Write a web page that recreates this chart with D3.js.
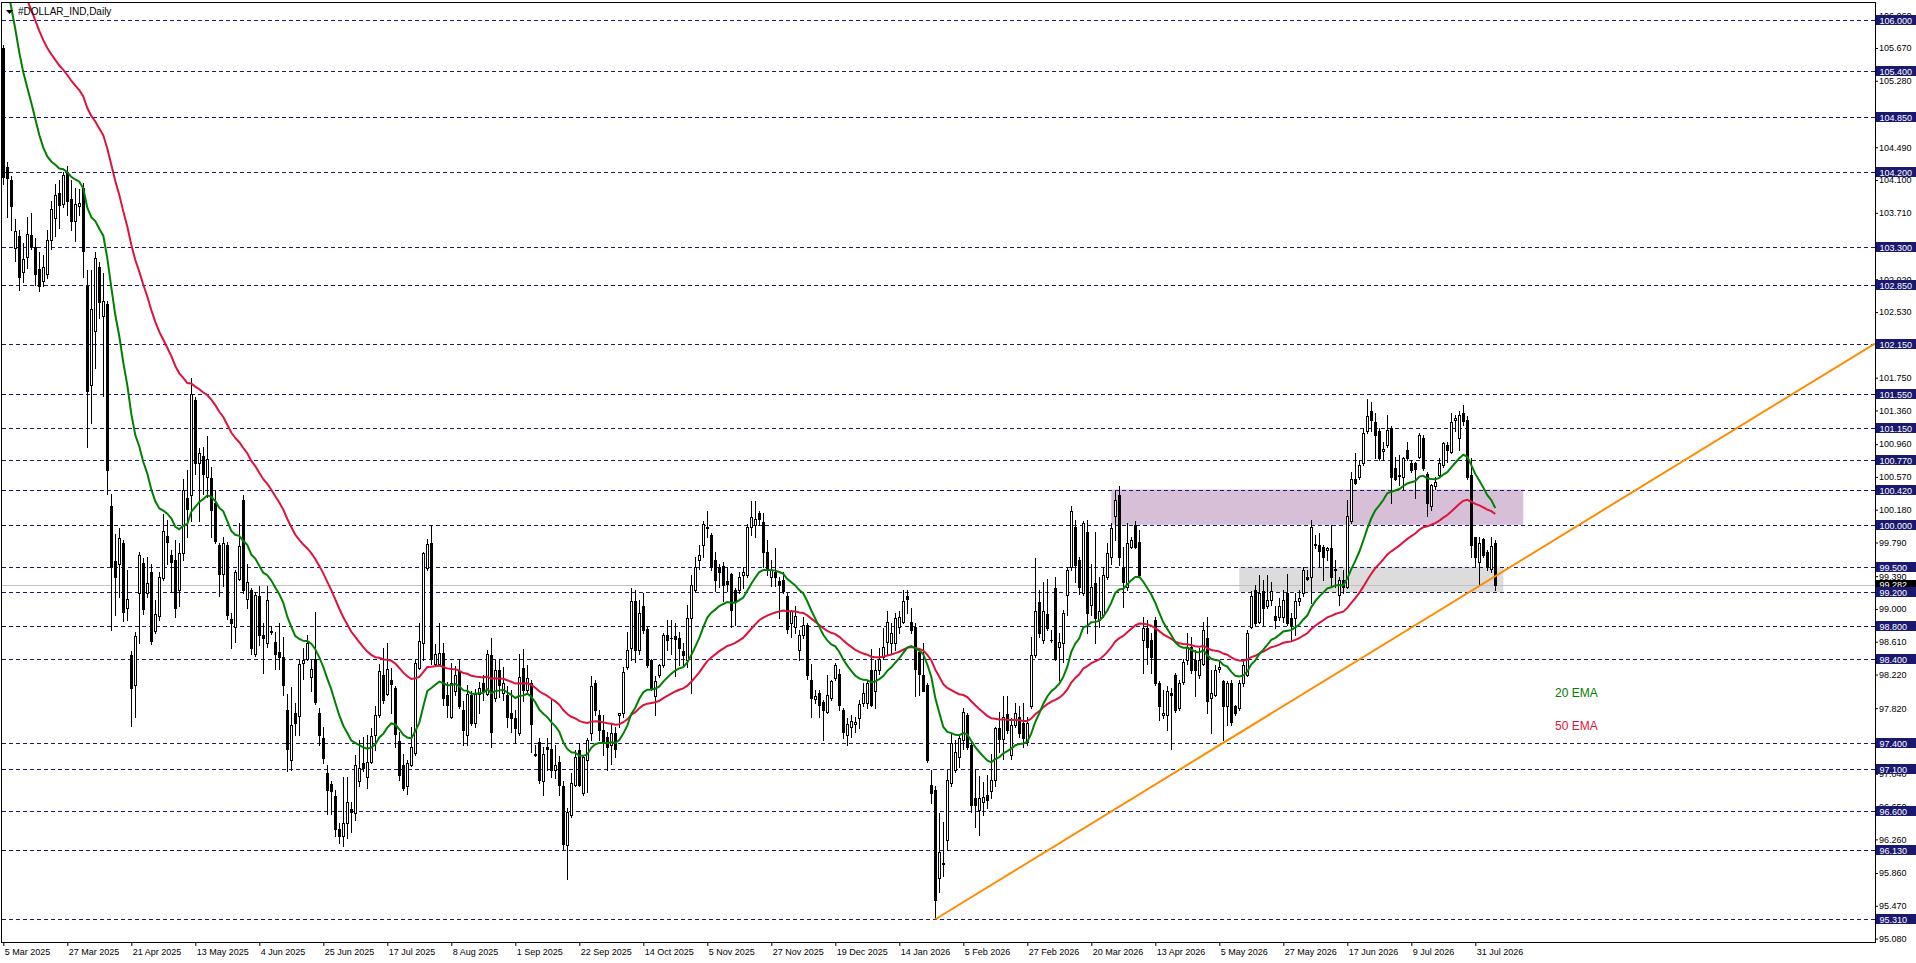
<!DOCTYPE html>
<html>
<head>
<meta charset="utf-8">
<script src="https://cdn.jsdelivr.net/npm/d3@7"></script>
<style>
html, body { margin: 0; padding: 0; background: #fff; overflow: hidden; }
svg { display: block; }
text { font-family: "Liberation Sans", Arial, sans-serif; }
</style>
</head>
<body>
<script>
////////////////////////////////////////////////////////////////
// Data: daily OHLC for #DOLLAR_IND, one value per bar (bar 0 = 5 Mar 2025)

const opens = [
  105.67,104.25,104.10,103.29,103.44,103.01,103.18,103.45,103.30,103.04,
  102.90,102.98,103.39,103.65,103.95,103.82,104.20,103.87,103.61,103.79,
  104.00,102.84,101.66,102.30,103.06,102.48,102.63,100.22,99.57,99.53,
  99.78,99.01,98.45,98.09,99.19,99.55,99.19,99.44,98.74,98.92,
  99.37,99.87,99.64,99.58,99.23,99.67,100.32,100.35,101.49,100.73,
  100.82,100.57,100.56,100.26,99.76,99.42,99.76,98.88,98.79,99.36,
  100.30,99.12,99.22,98.46,99.15,98.69,98.59,98.74,98.61,98.49,
  98.43,97.80,97.20,97.76,97.73,98.36,98.41,98.19,98.41,97.76,
  97.46,97.05,96.92,96.77,96.38,96.30,96.45,96.62,96.57,96.95,
  97.17,97.00,97.18,97.50,97.74,98.21,97.99,98.16,98.06,97.43,
  97.14,96.89,97.15,97.29,98.30,98.59,99.49,99.78,98.35,98.35,
  98.48,97.98,97.72,98.03,98.26,97.80,97.50,97.98,97.64,97.99,
  98.12,97.99,98.45,97.94,98.27,98.00,97.98,97.76,97.70,97.52,
  98.30,98.04,98.12,97.27,97.42,96.95,97.36,97.34,97.09,97.18,
  96.89,96.19,96.55,96.91,97.32,96.81,97.20,97.52,98.12,97.74,
  97.56,97.48,97.38,97.52,97.74,97.76,98.31,98.53,99.09,98.51,
  99.03,98.76,98.39,97.96,98.21,98.33,98.69,98.66,98.68,98.65,
  98.50,98.39,98.89,99.23,99.58,99.76,99.96,99.88,99.58,99.50,
  99.51,99.33,99.42,99.23,99.23,99.40,99.40,99.98,100.00,100.14,
  100.03,99.68,99.38,99.44,99.33,99.34,99.15,98.83,98.79,98.51,
  98.69,98.81,98.16,97.93,98.00,97.89,97.78,97.94,98.18,98.23,
  97.80,97.50,97.60,97.63,97.70,97.88,97.88,98.27,98.02,98.27,
  98.43,98.61,98.59,98.59,98.79,98.84,99.15,98.85,98.79,98.49,
  98.21,98.10,96.91,96.85,95.80,95.97,96.25,96.93,97.09,97.24,
  97.44,97.74,97.38,96.75,96.61,96.71,96.79,96.83,96.97,97.58,
  97.45,97.75,97.26,97.62,97.72,97.64,97.42,97.84,98.45,99.08,
  98.63,98.94,98.63,99.25,98.55,98.59,99.17,99.50,99.98,99.58,
  99.19,99.92,99.05,99.31,98.87,98.93,99.38,99.62,100.10,100.36,
  99.50,99.26,99.74,100.00,99.79,98.63,98.77,98.63,98.87,98.12,
  97.74,97.74,98.00,98.22,97.82,98.13,98.39,98.55,98.39,98.22,
  98.35,98.65,97.94,97.98,98.28,98.14,97.84,98.12,97.84,97.82,
  98.12,98.22,98.79,99.23,98.85,99.21,99.03,99.11,98.92,98.91,
  98.91,99.19,98.89,98.89,99.09,99.19,99.38,99.38,99.77,99.76,
  99.74,99.70,99.72,99.46,99.17,99.34,99.26,100.04,100.55,100.57,
  100.73,101.11,101.35,101.22,101.11,100.88,100.95,101.15,100.67,100.58,
  100.57,100.89,100.74,100.73,100.81,101.03,100.61,100.22,100.46,100.59,
  100.71,100.95,100.87,101.25,101.03,101.33,101.25,100.59,99.85,99.56,
  99.83,99.68,99.47,99.78
];

const highs = [
  105.70,104.32,104.15,103.64,103.50,103.35,103.66,103.71,103.41,103.25,
  103.21,103.50,103.85,104.05,104.10,104.20,104.27,104.10,104.01,103.99,
  104.06,103.03,103.03,103.25,103.13,102.99,102.66,100.37,99.89,99.96,
  99.82,99.46,98.50,98.72,99.68,99.60,99.62,99.54,99.11,99.44,
  100.13,100.06,99.70,99.82,99.78,100.54,100.65,101.75,101.52,100.91,
  100.93,101.06,100.69,100.40,99.78,99.85,99.80,98.95,99.46,100.02,
  100.36,99.54,99.25,99.20,99.27,98.83,99.27,98.80,98.73,98.83,
  98.67,97.99,98.07,97.88,98.39,98.53,98.69,98.39,98.96,97.82,
  97.60,97.15,96.95,96.85,96.45,97.00,97.00,96.70,97.26,97.44,
  97.48,97.50,97.58,97.84,98.34,98.53,98.60,98.30,98.08,97.54,
  97.28,97.20,97.60,98.39,98.83,99.68,99.83,100.00,98.58,98.83,
  98.59,98.13,98.36,98.32,98.39,97.90,98.10,98.02,98.05,98.13,
  98.22,98.51,98.65,98.39,98.40,98.31,98.08,98.04,97.80,98.47,
  98.52,98.33,98.16,97.38,97.46,97.36,97.46,97.92,97.38,97.25,
  96.95,96.63,97.05,97.32,97.40,97.26,97.46,98.20,98.16,97.80,
  97.74,97.54,97.64,97.60,97.76,98.31,98.73,99.25,99.22,99.11,
  99.19,98.79,98.41,98.20,98.35,98.71,98.87,98.87,98.83,98.73,
  98.59,99.05,99.40,99.62,99.76,100.04,100.17,99.90,99.68,99.54,
  99.56,99.50,99.43,99.25,99.44,99.50,100.01,100.28,100.28,100.17,
  100.14,99.82,99.58,99.72,99.38,99.44,99.19,98.99,99.03,98.75,
  98.91,98.83,98.34,98.04,98.04,97.92,98.21,98.16,98.36,98.29,
  97.82,97.70,97.74,97.72,97.92,98.12,98.16,98.52,98.39,98.53,
  98.77,98.97,98.83,98.95,98.97,99.23,99.22,99.01,98.83,98.51,
  98.59,98.12,97.09,96.90,96.57,96.47,97.09,97.52,97.44,97.50,
  97.82,97.76,97.44,97.09,97.01,96.94,97.02,97.28,97.60,97.78,
  97.96,97.96,97.70,97.88,97.84,97.88,97.72,98.67,99.60,99.23,
  99.32,99.36,98.75,99.38,98.71,98.99,99.50,100.22,100.06,99.62,
  100.04,100.06,99.54,99.92,99.38,99.50,99.78,100.02,100.40,100.46,
  99.74,100.02,99.86,100.04,99.94,98.91,98.87,98.71,98.91,98.14,
  98.04,98.08,98.06,98.24,98.16,98.41,98.71,98.67,98.51,98.53,
  98.85,98.91,98.27,98.33,98.37,98.16,98.14,98.16,97.86,98.16,
  98.39,98.75,99.21,99.29,99.40,99.34,99.40,99.32,99.03,99.13,
  99.23,99.42,98.95,99.19,99.23,99.50,99.46,100.06,99.88,99.90,
  99.76,99.74,100.00,99.58,99.38,99.46,100.30,100.63,100.85,100.77,
  101.15,101.50,101.46,101.33,101.15,100.99,101.31,101.17,100.81,100.83,
  100.81,100.99,100.77,100.75,101.09,101.07,100.63,100.49,100.57,100.79,
  100.99,100.99,101.33,101.31,101.35,101.43,101.29,100.79,99.86,99.86,
  99.84,99.70,99.85,99.82
];

const lows = [
  104.05,103.66,103.50,103.14,102.79,102.89,103.05,103.28,102.85,102.78,
  102.84,102.94,103.28,103.44,103.53,103.78,103.69,103.50,103.37,103.69,
  102.95,100.92,101.21,101.87,102.46,101.53,100.37,98.75,98.93,99.14,
  98.86,98.87,97.61,97.72,98.59,98.94,99.14,98.58,98.71,98.87,
  99.35,99.54,99.20,98.91,99.03,99.58,99.86,100.04,100.60,100.04,
  100.37,100.33,99.86,99.78,99.15,99.27,98.88,98.53,98.61,99.35,
  99.19,99.01,98.47,98.44,98.57,98.24,98.55,98.70,98.28,98.29,
  97.98,97.07,97.09,97.50,97.50,98.17,98.39,98.03,97.87,97.38,
  97.17,96.56,96.56,96.30,96.22,96.18,96.28,96.35,96.49,96.89,
  97.07,96.87,97.17,97.32,97.72,97.88,97.98,97.76,97.36,96.97,
  96.85,96.80,97.13,97.26,98.29,98.39,99.46,98.34,98.33,98.33,
  97.86,97.72,97.70,97.98,97.82,97.38,97.38,97.62,97.60,97.76,
  97.92,97.98,97.36,97.90,97.95,97.92,97.60,97.54,97.40,97.50,
  97.90,97.99,97.30,97.25,96.93,96.79,97.08,97.00,96.99,96.79,
  96.14,95.79,96.53,96.89,96.89,96.79,96.82,97.44,97.74,97.44,
  97.26,97.09,97.16,97.24,97.60,97.72,98.29,98.39,98.37,98.47,
  98.71,98.31,98.04,97.74,98.19,98.31,98.51,98.47,98.20,98.33,
  98.33,98.31,98.00,99.21,99.48,99.62,99.86,99.46,99.21,99.26,
  99.09,99.21,98.79,98.81,99.19,99.25,99.38,99.88,99.86,100.00,
  99.50,99.40,99.27,99.27,98.89,99.19,98.71,98.67,98.71,98.39,
  98.65,98.17,97.71,97.88,97.72,97.44,97.76,97.92,98.16,97.80,
  97.46,97.38,97.48,97.54,97.58,97.84,97.82,97.84,97.82,98.23,
  98.41,98.47,98.47,98.51,98.71,98.83,98.95,98.71,97.96,97.98,
  98.02,97.18,96.69,95.31,95.64,95.82,96.13,96.89,97.06,97.12,
  97.34,97.34,96.59,96.41,96.31,96.55,96.63,96.75,96.89,97.30,
  97.22,97.52,97.22,97.60,97.48,97.36,97.38,97.82,98.43,98.67,
  98.59,98.75,98.61,98.39,98.16,98.37,98.93,99.46,99.32,99.18,
  99.17,98.71,98.93,98.59,98.79,98.91,99.36,99.54,99.82,99.52,
  99.02,99.22,99.72,99.72,99.38,98.24,98.35,98.24,98.10,97.68,
  97.70,97.56,97.34,97.78,97.80,98.11,98.35,98.24,97.96,98.18,
  98.33,97.76,97.52,97.96,98.25,97.44,97.62,97.62,97.74,97.80,
  98.08,98.20,98.77,98.81,98.83,98.81,99.01,99.05,98.77,98.87,
  98.85,98.81,98.63,98.69,99.05,99.15,99.34,99.07,99.72,99.50,
  99.34,99.58,99.26,99.26,99.05,99.19,99.25,100.02,100.48,100.55,
  100.71,101.09,101.11,100.79,100.77,100.77,100.93,100.26,100.53,100.47,
  100.43,100.77,100.63,100.32,100.79,100.65,100.10,100.18,100.43,100.57,
  100.69,100.75,100.85,101.11,100.89,101.19,100.55,99.62,99.50,99.28,
  99.62,99.46,99.44,99.23
];

const closes = [
  104.14,104.12,103.79,103.49,102.95,103.16,103.46,103.31,102.98,102.84,
  103.06,103.39,103.75,103.92,103.80,104.16,103.85,103.61,103.81,103.83,
  103.26,101.59,102.57,103.17,102.65,102.66,100.65,99.50,99.38,99.84,
  98.96,99.12,98.06,98.68,99.64,99.00,99.31,98.62,98.94,99.38,
  99.93,99.79,99.56,99.01,99.66,100.41,100.19,101.55,100.74,100.85,
  100.61,100.78,100.18,99.81,99.41,99.78,98.93,98.83,99.44,99.75,
  99.23,99.32,98.54,99.16,98.69,98.66,99.11,98.73,98.47,98.43,
  98.10,97.34,97.62,97.64,98.34,98.39,98.60,98.29,97.89,97.50,
  97.23,96.85,96.83,96.38,96.30,96.45,96.71,96.58,97.15,97.11,
  97.11,97.18,97.49,97.74,98.26,97.92,98.29,98.11,97.51,97.03,
  96.87,97.17,97.36,98.36,98.62,99.66,99.77,98.41,98.47,98.48,
  97.94,97.86,98.12,98.21,97.84,97.56,97.99,97.64,97.99,98.06,
  98.03,98.47,97.54,98.27,98.10,98.12,97.72,97.70,97.58,98.19,
  98.04,98.18,97.63,97.26,96.97,97.28,97.34,97.09,97.15,96.91,
  96.21,96.59,96.93,97.24,96.91,97.24,97.44,98.08,97.80,97.56,
  97.40,97.36,97.52,97.34,97.76,98.25,98.51,99.09,98.51,98.95,
  98.75,98.33,98.06,98.14,98.33,98.69,98.63,98.66,98.64,98.53,
  98.45,98.89,99.29,99.50,99.64,100.01,99.98,99.50,99.34,99.44,
  99.29,99.30,98.99,99.09,99.38,99.44,99.98,100.09,100.07,100.07,
  99.68,99.48,99.46,99.38,99.28,99.21,98.76,98.97,98.92,98.69,
  98.81,98.21,97.94,97.96,97.86,97.80,97.98,98.14,98.33,97.86,
  97.54,97.63,97.67,97.66,97.87,98.00,98.12,97.86,98.27,98.41,
  98.55,98.85,98.71,98.89,98.91,99.09,99.12,98.75,98.29,98.23,
  98.03,97.20,96.81,95.54,96.11,95.98,96.97,97.40,97.30,97.46,
  97.77,97.36,96.67,96.67,96.75,96.76,96.73,96.97,97.58,97.45,
  97.72,97.56,97.62,97.76,97.52,97.46,97.64,98.45,98.97,98.71,
  98.97,98.77,98.63,98.41,98.61,98.95,99.46,100.16,99.52,99.26,
  100.02,98.95,99.26,98.89,98.97,99.40,99.66,99.96,100.30,99.62,
  99.32,99.78,99.82,99.74,99.40,98.77,98.55,98.43,98.12,97.84,
  97.76,98.02,97.98,97.80,98.12,98.37,98.55,98.27,98.27,98.39,
  98.75,97.90,98.00,98.27,98.31,97.84,98.12,97.66,97.76,98.12,
  98.33,98.71,99.15,98.83,99.19,99.01,99.11,99.21,98.87,99.03,
  99.11,98.83,98.81,99.09,99.13,99.46,99.36,99.98,99.76,99.69,
  99.62,99.73,99.38,99.48,99.34,99.26,100.10,100.55,100.50,100.71,
  101.09,101.29,101.25,101.07,100.79,100.90,101.13,100.57,100.55,100.59,
  100.79,100.79,100.65,100.66,101.07,100.67,100.26,100.47,100.51,100.73,
  100.97,100.89,101.22,101.27,101.31,101.23,100.57,99.76,99.62,99.78,
  99.64,99.50,99.75,99.282
];

// EMA values carried in from the bars before the visible window
const ema20Start = 106.90;
const ema50Start = 107.10;

// date labels on the time axis, one every 16 bars
const dateLabels = ["5 Mar 2025","27 Mar 2025","21 Apr 2025","13 May 2025","4 Jun 2025",
  "25 Jun 2025","17 Jul 2025","8 Aug 2025","1 Sep 2025","22 Sep 2025","14 Oct 2025",
  "5 Nov 2025","27 Nov 2025","19 Dec 2025","14 Jan 2026","5 Feb 2026","27 Feb 2026",
  "20 Mar 2026","13 Apr 2026","5 May 2026","27 May 2026","17 Jun 2026","9 Jul 2026",
  "31 Jul 2026"];

// price scale tick labels that show on the scale
const priceTicks = [106.060,105.670,105.280,104.490,104.100,103.710,
  102.920,102.530,101.750,101.360,100.960,100.570,100.180,99.790,99.390,
  99.000,98.610,98.220,97.820,97.040,96.650,96.260,95.860,95.470,95.080];

// horizontal levels drawn on the chart
const levels = [106.000,105.400,104.850,104.200,103.300,102.850,102.150,101.550,
  101.150,100.770,100.420,100.000,99.500,99.200,98.800,98.400,97.400,97.100,
  96.600,96.130,95.310];

// zones: [first bar, last bar] and [low, high]
const zoneBars   = [[277, 380], [309, 375]];
const zonePrices = [[100.000, 100.420], [99.200, 99.500]];

// trend line anchors (bar index, price)
const trendBars   = [233, 373];
const trendPrices = [95.31, 99.39];


////////////////////////////////////////////////////////////////
// Setup

const W = 1916, H = 963;
const pL = 2, pT = 2, pR = 1875, pB = 942;
const BLUE = "#191970";

let svg = d3.select("body").append("svg")
  .attr("width", W)
  .attr("height", H)

// one bar every 4 px, the right part of the window is empty space
let x = d3.scaleLinear().domain([0, 468]).range([3.3, 3.3 + 4 * 468])
let y = d3.scaleLinear().domain([95.08, 105.67]).range([938.6, 48])

svg.append("defs").append("clipPath").attr("id", "plot")
  .append("rect")
  .attr("x", pL).attr("y", pT + 1)
  .attr("width", pR - pL).attr("height", pB - pT - 1)

let plot = svg.append("g").attr("clip-path", "url(#plot)")

let bars = d3.range(closes.length).map(i => ({
  i: i, o: opens[i], h: highs[i], l: lows[i], c: closes[i]
}))

const px = i => Math.floor(x(i)) + 0.5


////////////////////////////////////////////////////////////////
// Zones and levels (behind the candles)

const zoneColors = ["#D8BFD8", "#DCDCDC"];

plot.selectAll("rect.zone")
  .data(zoneBars)
  .enter()
  .append("rect")
  .attr("class", "zone")
  .attr("x", d => x(d[0]))
  .attr("width", d => x(d[1]) - x(d[0]))
  .attr("y", (d, k) => y(zonePrices[k][1]))
  .attr("height", (d, k) => y(zonePrices[k][0]) - y(zonePrices[k][1]))
  .attr("fill", (d, k) => zoneColors[k])

plot.selectAll("line.level")
  .data(levels)
  .enter()
  .append("line")
  .attr("x1", pL).attr("x2", pR)
  .attr("y1", d => Math.round(y(d)) + 0.5)
  .attr("y2", d => Math.round(y(d)) + 0.5)
  .attr("stroke", BLUE)
  .attr("stroke-width", 1)
  .attr("stroke-dasharray", "4,3")

// current price line
const last = closes[closes.length - 1];
plot.append("line")
  .attr("x1", pL).attr("x2", pR)
  .attr("y1", Math.round(y(last)) + 0.5)
  .attr("y2", Math.round(y(last)) + 0.5)
  .attr("stroke", "#C0C0C0")
  .attr("stroke-width", 1)


////////////////////////////////////////////////////////////////
// Candles

let candles = plot.append("g").attr("shape-rendering", "crispEdges")

candles.selectAll("line.wick")
  .data(bars)
  .enter()
  .append("line")
  .attr("x1", d => px(d.i)).attr("x2", d => px(d.i))
  .attr("y1", d => Math.round(y(d.h)))
  .attr("y2", d => Math.round(y(d.l)) + 1)
  .attr("stroke", "#000")

// bullish: white body, black outline
candles.selectAll("rect.up")
  .data(bars.filter(d => d.c > d.o))
  .enter()
  .append("rect")
  .attr("x", d => px(d.i) - 1)
  .attr("y", d => Math.round(y(d.c)) + 0.5)
  .attr("width", 2)
  .attr("height", d => Math.max(1, Math.round(y(d.o)) - Math.round(y(d.c))))
  .attr("fill", "#fff")
  .attr("stroke", "#000")

// bearish: solid black body
candles.selectAll("rect.down")
  .data(bars.filter(d => d.c <= d.o))
  .enter()
  .append("rect")
  .attr("x", d => px(d.i) - 1.5)
  .attr("y", d => Math.round(y(d.o)))
  .attr("width", 3)
  .attr("height", d => Math.max(1, Math.round(y(d.c)) - Math.round(y(d.o)) + 1))
  .attr("fill", "#000")


////////////////////////////////////////////////////////////////
// Moving averages

function ema(values, period, start) {
  const k = 2 / (period + 1);
  let e = start;
  return values.map(v => (e = e + k * (v - e)));
}

let line = d3.line()
  .x((d, i) => x(i))
  .y(d => y(d))

plot.append("path")
  .attr("d", line(ema(closes, 50, ema50Start)))
  .attr("fill", "none")
  .attr("stroke", "#DC143C")
  .attr("stroke-width", 2)

plot.append("path")
  .attr("d", line(ema(closes, 20, ema20Start)))
  .attr("fill", "none")
  .attr("stroke", "#008000")
  .attr("stroke-width", 2)


////////////////////////////////////////////////////////////////
// Trend line (ray to the right edge)

const slope = (trendPrices[1] - trendPrices[0]) / (trendBars[1] - trendBars[0]);
const endBar = x.invert(pR);

plot.append("line")
  .attr("x1", x(trendBars[0]))
  .attr("y1", y(trendPrices[0]))
  .attr("x2", x(endBar))
  .attr("y2", y(trendPrices[0] + slope * (endBar - trendBars[0])))
  .attr("stroke", "#FF8C00")
  .attr("stroke-width", 2)


////////////////////////////////////////////////////////////////
// Frame and axes

svg.append("rect")
  .attr("x", 1.5).attr("y", pT + 0.5)
  .attr("width", pR - 1.5).attr("height", pB - pT)
  .attr("fill", "none")
  .attr("stroke", "#000")
  .attr("shape-rendering", "crispEdges")

let yAxis = d3.axisRight(y)
  .tickValues(priceTicks)
  .tickSize(3)
  .tickPadding(1)
  .tickFormat(d3.format(".3f"))

let yg = svg.append("g")
  .attr("transform", `translate(${pR},0)`)
  .call(yAxis)
yg.select(".domain").remove()
yg.selectAll("text").attr("font-size", 9).attr("font-family", "Liberation Sans, Arial, sans-serif").attr("fill", "#000")

let xAxis = d3.axisBottom(x)
  .tickValues(dateLabels.map((d, i) => 16 * i))
  .tickSize(4)
  .tickFormat((d, i) => dateLabels[i])

let xg = svg.append("g")
  .attr("transform", `translate(0,${pB})`)
  .call(xAxis)
xg.select(".domain").remove()
xg.selectAll("text")
  .attr("text-anchor", "start")
  .attr("x", 1)
  .attr("font-size", 9)
  .attr("font-family", "Liberation Sans, Arial, sans-serif")
  .attr("fill", "#000")

// current price label
svg.append("rect")
  .attr("x", pR + 1).attr("y", Math.round(y(last)) - 5)
  .attr("width", W - pR).attr("height", 10)
  .attr("fill", "#000")
svg.append("text")
  .attr("x", pR + 4.5).attr("y", y(last))
  .attr("dy", "0.35em")
  .attr("font-size", 9)
  .attr("fill", "#fff")
  .text(d3.format(".3f")(last))

// level labels
let lv = svg.selectAll("g.lvl")
  .data(levels)
  .enter()
  .append("g")
  .attr("transform", d => `translate(${pR + 1},${Math.round(y(d))})`)

lv.append("rect")
  .attr("x", 0).attr("y", -5)
  .attr("width", W - pR).attr("height", 10)
  .attr("fill", BLUE)

lv.append("text")
  .attr("x", 3.5).attr("y", 0.5)
  .attr("dy", "0.35em")
  .attr("font-size", 9)
  .attr("fill", "#fff")
  .text(d => d3.format(".3f")(d))


////////////////////////////////////////////////////////////////
// Title and notes

svg.append("path")
  .attr("d", "M6,10 L13,10 L9.5,14 Z")
  .attr("fill", "#000")

svg.append("text")
  .attr("x", 18).attr("y", 15)
  .attr("font-size", 10)
  .attr("fill", "#000")
  .text("#DOLLAR_IND,Daily")

svg.append("text")
  .attr("x", 1555).attr("y", 697)
  .attr("font-family", "Open Sans, sans-serif")
  .attr("font-size", 12)
  .attr("fill", "#008000")
  .text("20 EMA")

svg.append("text")
  .attr("x", 1555).attr("y", 730)
  .attr("font-family", "Open Sans, sans-serif")
  .attr("font-size", 12)
  .attr("fill", "#DC143C")
  .text("50 EMA")
</script>
</body>
</html>
